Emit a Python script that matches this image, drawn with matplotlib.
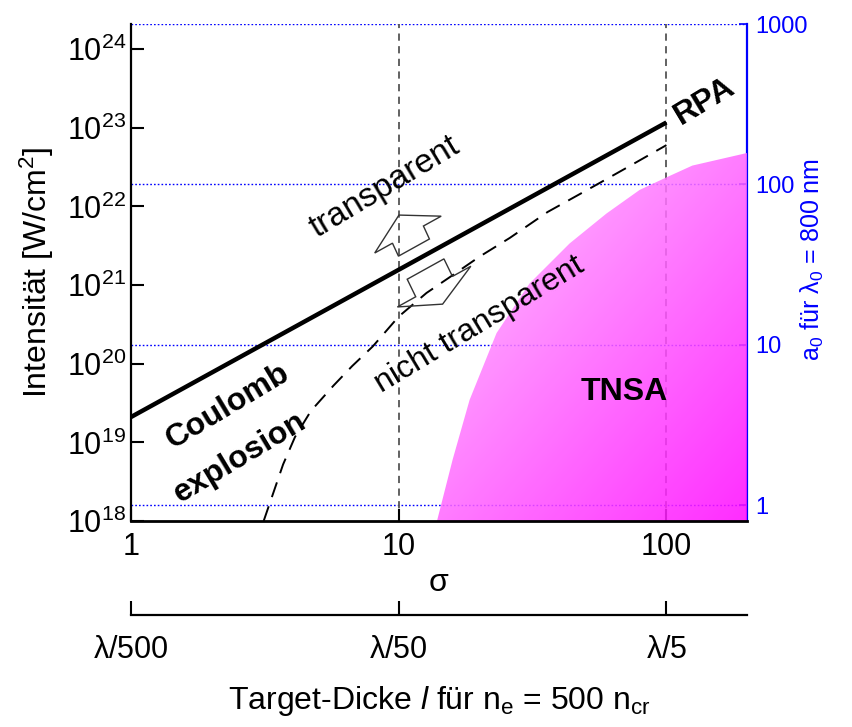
import numpy as np
import matplotlib
matplotlib.use('Agg')
import matplotlib.pyplot as plt
from matplotlib.patches import Polygon
import matplotlib.transforms as mtransforms

plt.rcParams['font.family'] = ['Liberation Sans', 'DejaVu Sans']
plt.rcParams['mathtext.fontset'] = 'custom'
plt.rcParams['mathtext.rm'] = 'Liberation Sans'
plt.rcParams['mathtext.it'] = 'Liberation Sans:italic'
plt.rcParams['mathtext.default'] = 'regular'

#RPA threshold (solid line)
sig_rpa = [1, 100]
I_rpa = [2.1e19, 1.17e23]

#transparency threshold (dashed curve)
sig_tr = [3.13, 3.7, 4.1, 4.7, 5.7, 6.7, 8.0, 10, 12.7, 15.5, 20, 26, 36, 50, 70, 100]
logI_tr = [18.0, 18.72, 19.07, 19.4, 19.72, 19.97, 20.22, 20.6, 20.9, 21.1,
           21.36, 21.6, 21.93, 22.2, 22.48, 22.78]

#TNSA region boundary
sig_tnsa = [13.9, 15.9, 18.4, 23.2, 30.8, 43.5, 59.7, 79.4, 100, 125, 200]
logI_tnsa = [18.0, 18.78, 19.54, 20.39, 21.02, 21.53, 21.91, 22.21, 22.37, 22.52, 22.68]

#axes
sig_ticks = [1, 10, 100]
sig_labels = ['1', '10', '100']
thick_labels = [r'$\lambda$/500', r'$\lambda$/50', r'$\lambda$/5']
a0_ticks = [1, 10, 100, 1000]
a0_labels = ['1', '10', '100', '1000']

#a0 <-> intensity
I1 = 10**18.2
p = 1/2.04
def to_a0(I):
    return (np.maximum(I, 1e-300)/I1)**p
def to_I(a):
    return I1*np.maximum(a, 1e-300)**(1/p)

fig = plt.figure(figsize=(8.53, 7.27), dpi=100)
ax = fig.add_axes([131/853, 1-521/727, 616/853, 497/727])
ax.set_xscale('log')
ax.set_yscale('log')
ax.set_xlim(1, 200)
ax.set_ylim(1e18, to_I(1000)*1.001)

#guide lines
for a in a0_ticks:
    ax.axhline(to_I(a), color='blue', ls=(0, (1.2, 1.5)), lw=1.0, zorder=1)
for s in [10, 100]:
    ax.axvline(s, color='#555555', ls=(0, (4, 3)), lw=1.3, zorder=1)

#curves
ax.plot(sig_rpa, I_rpa, color='k', lw=3.2, zorder=3, solid_capstyle='butt')
ax.plot(sig_tr, 10**np.array(logI_tr), color='k', lw=1.4, ls=(0, (8, 5)), zorder=3)

#TNSA region with gradient fill
bx = sig_tnsa + [sig_tnsa[-1], sig_tnsa[0]]
by = list(10**np.array(logI_tnsa)) + [1e18, 1e18]
poly = Polygon(np.column_stack([bx, by]), closed=True, facecolor='none',
               edgecolor='none', transform=ax.transData)
ax.add_patch(poly)
pts = (ax.transData + ax.transAxes.inverted()).transform(np.column_stack([bx, by]))
x0, x1 = pts[:, 0].min(), pts[:, 0].max()
y0, y1 = pts[:, 1].min(), pts[:, 1].max()
ny, nx = 200, 200
gx, gr = np.meshgrid(np.linspace(0, 1, nx), np.linspace(0, 1, ny))
t = np.clip((gx + gr) / 2.0, 0, 1)
c_light = np.array([255, 195, 255]) / 255
c_dark = np.array([255, 10, 255]) / 255
img = c_light[None, None, :]*(1 - t[..., None]) + c_dark[None, None, :]*t[..., None]
im = ax.imshow(img, extent=[x0, x1, y0, y1], transform=ax.transAxes,
               aspect='auto', alpha=0.86, zorder=2, interpolation='bilinear')
im.set_clip_path(poly)

#block arrows
def block_arrow(ax, sx, iy, v, d, ws, wh, ls, lh):
    v = np.array(v, float); v /= np.hypot(*v)
    d = np.array(d, float); d /= np.hypot(*d)
    base = ls*v
    tip = base + lh*v
    verts = [tip, base + wh*d, base + ws*d, ws*d, -ws*d, base - ws*d, base - wh*d]
    px, py = ax.transData.transform((sx, iy))
    tr = mtransforms.Affine2D().translate(px, py)
    ax.add_patch(Polygon(verts, closed=True, facecolor='none', edgecolor='#333333',
                         lw=1.0, transform=tr, zorder=4))

line_dir = (0.875, 0.485)
block_arrow(ax, 11.4, 3.0e21, (-0.419, 0.908), line_dir, 17.7, 38, 14.3, 21.5)
block_arrow(ax, 12.6, 1.6e21, (0.436, -0.898), line_dir, 21, 42, 19.5, 19.5)

#labels inside
ax.text(8.87, 1.75e22, 'transparent', fontsize=24, rotation=31,
        ha='center', va='center', rotation_mode='anchor')
ax.text(20, 3.1e20, 'nicht transparent', fontsize=23, rotation=31,
        ha='center', va='center', rotation_mode='anchor')
ax.text(138.6, 2.2e23, 'RPA', fontsize=23, fontweight='bold', rotation=31,
        ha='center', va='center', rotation_mode='anchor')
ax.text(2.3, 2.9e19, 'Coulomb', fontsize=23, fontweight='bold', rotation=31,
        ha='center', va='center', rotation_mode='anchor')
ax.text(2.55, 6.3e18, 'explosion', fontsize=23, fontweight='bold', rotation=31,
        ha='center', va='center', rotation_mode='anchor')
ax.text(69.7, 4.4e19, 'TNSA', fontsize=23, fontweight='bold',
        ha='center', va='center')

#main axes styling
ax.spines['top'].set_visible(False)
ax.spines['right'].set_visible(False)
ax.spines['left'].set_linewidth(1.6)
ax.spines['bottom'].set_linewidth(2.0)
ax.set_xticks(sig_ticks)
ax.set_xticklabels(sig_labels)
ax.xaxis.set_minor_locator(matplotlib.ticker.NullLocator())
ax.yaxis.set_minor_locator(matplotlib.ticker.NullLocator())
ax.set_yticks([10.0**k for k in range(18, 25)])
ax.tick_params(axis='both', which='major', direction='in', length=9, width=1.5,
               labelsize=22)
ax.tick_params(axis='x', pad=8)
ax.set_xlabel(r'$\sigma$', fontsize=23, labelpad=4)
ax.set_ylabel(r'Intensität [W/cm$^2$]', fontsize=23, labelpad=8)

#a0 axis
ax2 = ax.secondary_yaxis('right', functions=(to_a0, to_I))
ax2.set_yticks(a0_ticks)
ax2.set_yticklabels(a0_labels)
ax2.yaxis.set_minor_locator(matplotlib.ticker.NullLocator())
ax2.tick_params(axis='y', direction='in', length=6, width=1.2, colors='blue',
                labelsize=17, pad=6)
ax2.spines['right'].set_color('blue')
ax2.spines['right'].set_linewidth(1.6)
fig.text(812/853, 1-259/727, r'a$_0$ für $\lambda_0$ = 800 nm', color='blue',
         fontsize=18, rotation=90, ha='center', va='center')

#target thickness axis
ax3 = ax.secondary_xaxis(-0.19)
ax3.set_xticks(sig_ticks)
ax3.set_xticklabels(thick_labels)
ax3.xaxis.set_minor_locator(matplotlib.ticker.NullLocator())
ax3.tick_params(axis='x', direction='in', length=10, width=1.5, labelsize=22, pad=14)
ax3.spines['bottom'].set_linewidth(1.6)
ax3.set_xlabel(r'Target-Dicke $\mathit{l}$ für n$_e$ = 500 n$_{cr}$', fontsize=23,
               labelpad=14)

plt.savefig('out.png', dpi=100)
